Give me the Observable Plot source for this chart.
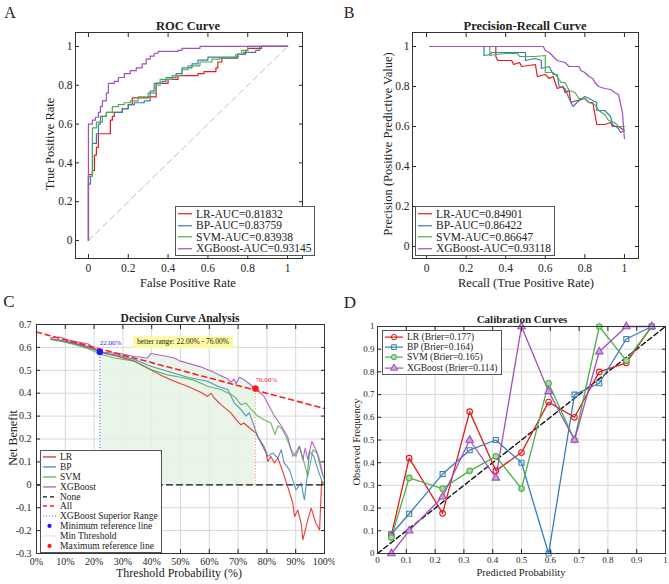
<!DOCTYPE html>
<html><head><meta charset="utf-8">
<script src="https://cdn.jsdelivr.net/npm/d3@7"></script>
<script src="https://cdn.jsdelivr.net/npm/@observablehq/plot@0.6"></script>
<style>
body{margin:0;background:#fff;}
#root{position:relative;width:669px;height:584px;overflow:hidden;font-family:"Liberation Serif","Times New Roman",serif;color:#222;background:#fff;}
.pl{position:absolute;}
.lbl{position:absolute;transform:translate(-50%,-50%);white-space:nowrap;line-height:1;}
.rot{transform:translate(-50%,-50%) rotate(-90deg);}
.ttl{font-weight:bold;}
.legend{position:absolute;background:#fff;border:1px solid #555;box-sizing:border-box;padding:1px 3px 1px 1px;}
.legend .row{display:flex;align-items:center;white-space:nowrap;}
.legend svg{flex:none;}
</style></head><body><div id="root"></div>
<script>
// ---------- data ----------
const models = ["LR", "BP", "SVM", "XGBoost"];
const colors = ["#e41a1c", "#377eb8", "#4daf4a", "#a24fbf"];
const rocAUC = ["0.81832", "0.83759", "0.83938", "0.93145"];
const prAUC = ["0.84901", "0.86422", "0.86647", "0.93118"];
const brier = ["0.177", "0.164", "0.165", "0.114"];
const panelLetters = ["A", "B", "C", "D"];

const rocLR = [[0,0],[0,0.34],[0.02,0.36],[0.03,0.44],[0.04,0.48],[0.05,0.55],[0.11,0.62],[0.12,0.64],[0.13,0.66],[0.17,0.68],[0.2,0.7],[0.22,0.735],[0.3,0.74],[0.34,0.81],[0.4,0.83],[0.45,0.85],[0.55,0.86],[0.58,0.87],[0.64,0.89],[0.65,0.92],[0.67,0.94],[0.75,0.96],[0.79,0.98],[0.8,0.99],[0.87,1],[1,1]];
const rocBP = [[0,0],[0,0.29],[0.01,0.33],[0.02,0.5],[0.04,0.55],[0.05,0.6],[0.06,0.64],[0.09,0.66],[0.14,0.66],[0.17,0.68],[0.2,0.7],[0.23,0.71],[0.28,0.72],[0.31,0.77],[0.33,0.81],[0.37,0.82],[0.39,0.84],[0.44,0.86],[0.47,0.89],[0.52,0.91],[0.55,0.93],[0.6,0.945],[0.75,0.96],[0.78,0.97],[0.84,0.98],[0.86,1],[1,1]];
const rocSVM = [[0,0],[0,0.33],[0.02,0.58],[0.04,0.61],[0.07,0.64],[0.09,0.66],[0.12,0.69],[0.15,0.7],[0.18,0.71],[0.21,0.72],[0.25,0.74],[0.3,0.76],[0.34,0.8],[0.36,0.83],[0.42,0.85],[0.47,0.88],[0.5,0.9],[0.56,0.92],[0.62,0.935],[0.66,0.94],[0.74,0.96],[0.77,0.98],[0.8,1],[1,1]];
const rocXGB = [[0,0],[0,0.6],[0.02,0.62],[0.035,0.635],[0.05,0.66],[0.06,0.69],[0.07,0.72],[0.09,0.76],[0.1,0.81],[0.13,0.82],[0.15,0.84],[0.18,0.86],[0.21,0.875],[0.24,0.89],[0.27,0.91],[0.29,0.935],[0.31,0.95],[0.33,0.965],[0.35,0.975],[0.45,0.98],[0.47,0.99],[0.56,1],[1,1]];
const rocDiag = [[0,0],[1,1]];

const prLR = [[0.015,1],[0.35,1],[0.35,0.95],[0.36,0.93],[0.43,0.93],[0.44,0.91],[0.47,0.92],[0.48,0.9],[0.55,0.91],[0.56,0.85],[0.6,0.86],[0.62,0.84],[0.64,0.85],[0.66,0.79],[0.69,0.8],[0.7,0.77],[0.72,0.78],[0.73,0.72],[0.76,0.73],[0.8,0.74],[0.82,0.72],[0.84,0.72],[0.86,0.61],[0.9,0.61],[0.93,0.62],[0.94,0.6],[0.97,0.6],[1,0.58]];
const prBP = [[0.015,1],[0.29,1],[0.29,0.955],[0.32,0.96],[0.33,0.97],[0.5,0.97],[0.5,0.93],[0.55,0.94],[0.58,0.93],[0.58,0.89],[0.62,0.9],[0.64,0.86],[0.66,0.86],[0.67,0.8],[0.7,0.79],[0.72,0.74],[0.74,0.7],[0.76,0.72],[0.8,0.75],[0.86,0.72],[0.86,0.68],[0.9,0.68],[0.93,0.65],[0.94,0.61],[0.97,0.59],[0.98,0.57],[1,0.58]];
const prSVM = [[0.015,1],[0.32,1],[0.32,0.955],[0.35,0.96],[0.4,0.965],[0.46,0.965],[0.47,0.95],[0.55,0.95],[0.6,0.955],[0.6,0.87],[0.64,0.87],[0.66,0.85],[0.68,0.82],[0.7,0.82],[0.72,0.78],[0.75,0.77],[0.77,0.74],[0.8,0.74],[0.82,0.72],[0.85,0.71],[0.87,0.68],[0.9,0.66],[0.92,0.63],[0.95,0.62],[0.97,0.6],[1,0.6]];
const prXGB = [[0.015,1],[0.59,1],[0.6,0.98],[0.62,0.97],[0.64,0.95],[0.66,0.93],[0.7,0.92],[0.72,0.9],[0.77,0.9],[0.78,0.88],[0.8,0.87],[0.82,0.85],[0.84,0.84],[0.85,0.82],[0.87,0.8],[0.9,0.79],[0.93,0.785],[0.95,0.77],[0.97,0.76],[0.99,0.67],[0.995,0.6],[1,0.54]];

const dcaLR = [[5,0.638],[8,0.632],[12,0.622],[16,0.61],[20,0.594],[24,0.573],[28,0.562],[34,0.54],[38.5,0.51],[43,0.48],[47.8,0.452],[52.4,0.43],[57,0.404],[59.4,0.386],[60.6,0.4],[61.7,0.379],[64,0.35],[67.5,0.314],[69.8,0.277],[71,0.262],[72,0.27],[74,0.248],[76.2,0.226],[78,0.182],[79.7,0.139],[80.3,0.102],[81.4,0.124],[82.6,0.095],[83.8,0.117],[85.5,0.058],[87.2,-0.007],[89,-0.08],[89.6,-0.139],[90.7,-0.11],[91.9,-0.168],[92.5,-0.24],[94.2,-0.153],[95.4,-0.102],[97,-0.168],[98.3,-0.197],[99,0.015],[100,0.007]];
const dcaBP = [[5,0.637],[10,0.625],[15,0.61],[20,0.59],[25,0.57],[29,0.565],[34,0.547],[39.7,0.518],[45.5,0.496],[52.4,0.47],[59.4,0.452],[62.9,0.43],[66.4,0.416],[68.7,0.357],[71,0.328],[72.7,0.3],[73.9,0.314],[75.6,0.255],[76.8,0.21],[79,0.168],[80.3,0.124],[82,0.139],[83.8,0.117],[85,0.153],[86,0.095],[87.8,0.066],[90.1,-0.022],[91.9,0.007],[93,-0.066],[94,0.036],[94.8,0.146],[96.3,0.124],[97.7,0.066],[99.4,0.007]];
const dcaSVM = [[5,0.634],[9,0.625],[13,0.613],[17,0.598],[20,0.583],[22.3,0.57],[27,0.554],[34,0.54],[39.7,0.503],[45.5,0.48],[50,0.47],[54.8,0.456],[59.4,0.43],[64,0.416],[67.5,0.394],[68.7,0.386],[71,0.35],[72.7,0.357],[74.5,0.33],[76.8,0.3],[79,0.284],[81.4,0.27],[82.8,0.219],[83.8,0.258],[85,0.248],[86.7,0.21],[88.4,0.153],[90.1,0.124],[91.3,0.168],[92.5,0.117],[94.2,0.036],[96,0.153],[97.4,0.139],[98.8,0.066],[100,0.022]];
const dcaXGB = [[5,0.642],[8,0.645],[11,0.632],[15,0.622],[18,0.615],[20,0.598],[22,0.58],[29,0.573],[34,0.56],[38.5,0.554],[39.7,0.573],[45.5,0.56],[47.8,0.554],[50,0.54],[57,0.515],[61.7,0.49],[66.4,0.462],[67.5,0.448],[68.7,0.462],[69.3,0.44],[70.4,0.47],[72,0.46],[74,0.44],[76,0.42],[79,0.386],[82.6,0.3],[85,0.258],[87.2,0.21],[89,0.124],[90,0.138],[91.3,0.168],[92.5,0.11],[93.3,0.16],[94.2,0.11],[95.6,0.19],[97,0.153],[98.3,0.11],[99.4,0.044]];
const dcaAll = [[0,0.667],[100,0.333]];
const dcaNone = [[0,0],[100,0]];
const refPoints = [{t: 22, nb: 0.58, color: "#1a1aff", label: "22.00%"}, {t: 76, nb: 0.42, color: "#ff1a1a", label: "76.00%"}];

const calBins = [0.048, 0.11, 0.226, 0.32, 0.411, 0.5, 0.594, 0.684, 0.77, 0.864, 0.952];
const calLR  = [0.08, 0.42, 0.177, 0.625, 0.365, 0.445, 0.667, 0.6, 0.8, 0.84, 1.0];
const calBP  = [0.085, 0.175, 0.35, 0.455, 0.5, 0.4, 0.0, 0.7, 0.75, 0.945, 1.0];
const calSVM = [0.07, 0.333, 0.286, 0.364, 0.428, 0.286, 0.75, 0.5, 1.0, 0.85, 1.0];
const calXGB = [0.0, 0.1, 0.25, 0.5, 0.333, 1.0, 0.714, 0.5, 0.889, 1.0, 1.0];
const calDiag = [[0,0],[1,1]];

const ticks01 = [0, 0.2, 0.4, 0.6, 0.8, 1];
const ticksDcaX = [0,10,20,30,40,50,60,70,80,90,100];
const ticksDcaY = [-0.3,-0.2,-0.1,0,0.1,0.2,0.3,0.4,0.5,0.6,0.7];
const ticksCal = [0,0.1,0.2,0.3,0.4,0.5,0.6,0.7,0.8,0.9,1];

// ---------- helpers ----------
const root = document.getElementById("root");
const fmtNum = d => String(+(+d).toFixed(2));
const X = d => d[0], Y = d => d[1];

function boxPlot(o) {
  const fs = o.fontSize;
  const axes = [
    Plot.axisX(o.xTicks, {anchor: "bottom", tickSize: -4, tickPadding: o.padX, tickFormat: o.fmtX || fmtNum, label: null, fontSize: fs}),
    Plot.axisX(o.xTicks, {anchor: "top", tickSize: -4, tickFormat: () => "", label: null}),
    Plot.axisY(o.yTicks, {anchor: "left", tickSize: -4, tickPadding: o.padY, tickFormat: o.fmtY || fmtNum, label: null, fontSize: fs}),
    Plot.axisY(o.yTicks, {anchor: "right", tickSize: -4, tickFormat: () => "", label: null}),
    Plot.frame({stroke: "#333", strokeWidth: 1})
  ];
  const grid = o.grid ? [
    Plot.gridX(o.xTicks, {stroke: "#d8d8d8", strokeOpacity: 1}),
    Plot.gridY(o.yTicks, {stroke: "#d8d8d8", strokeOpacity: 1})
  ] : [];
  const svg = Plot.plot({
    width: o.width, height: o.height,
    marginLeft: o.m[0], marginRight: o.m[1], marginTop: o.m[2], marginBottom: o.m[3],
    x: {domain: o.xDomain}, y: {domain: o.yDomain},
    style: {fontFamily: '"Liberation Serif", "Times New Roman", serif', fontSize: fs + "px", color: "#262626", background: "transparent"},
    marks: [...grid, ...o.marks, ...axes]
  });
  svg.classList.add("pl");
  svg.style.left = o.left + "px";
  svg.style.top = o.top + "px";
  root.appendChild(svg);
}

function label(text, cx, cy, size, extra = "") {
  const d = document.createElement("div");
  d.className = "lbl " + extra;
  d.style.left = cx + "px"; d.style.top = cy + "px"; d.style.fontSize = size + "px";
  d.textContent = text;
  root.appendChild(d);
  return d;
}

function legend(left, top, rows, fontSize, rowH, swW) {
  const box = document.createElement("div");
  box.className = "legend";
  box.style.left = left + "px"; box.style.top = top + "px"; box.style.fontSize = fontSize + "px";
  for (const r of rows) {
    const row = document.createElement("div");
    row.className = "row"; row.style.height = rowH + "px";
    const ns = "http://www.w3.org/2000/svg";
    const s = document.createElementNS(ns, "svg");
    s.setAttribute("width", swW); s.setAttribute("height", rowH);
    if (r.stroke) {
      const l = document.createElementNS(ns, "line");
      l.setAttribute("x1", 1); l.setAttribute("x2", swW - 2);
      l.setAttribute("y1", rowH / 2); l.setAttribute("y2", rowH / 2);
      l.setAttribute("stroke", r.stroke); l.setAttribute("stroke-width", r.width || 1.2);
      if (r.dash) l.setAttribute("stroke-dasharray", r.dash);
      s.appendChild(l);
    }
    if (r.marker) {
      const p = document.createElementNS(ns, "path");
      p.setAttribute("d", d3.symbol(r.marker.type, r.marker.size)());
      p.setAttribute("transform", `translate(${(swW - 1) / 2},${rowH / 2})`);
      p.setAttribute("fill", r.marker.fill); p.setAttribute("stroke", r.marker.stroke || "none");
      s.appendChild(p);
    }
    row.appendChild(s);
    const t = document.createElement("span");
    t.textContent = r.text; t.style.marginLeft = "2px";
    row.appendChild(t);
    box.appendChild(row);
  }
  root.appendChild(box);
}

// ---------- Panel A: ROC ----------
const rocSeries = [rocLR, rocBP, rocSVM, rocXGB];
boxPlot({
  left: 0, top: 0, width: 335, height: 290, m: [75, 33, 32, 32],
  xDomain: [-0.065, 1.075], yDomain: [-0.093, 1.072],
  xTicks: ticks01, yTicks: ticks01, fontSize: 11.5, padX: 9, padY: 7,
  marks: [
    Plot.line(rocDiag, {x: X, y: Y, stroke: "#bdbdbd", strokeWidth: 1, strokeDasharray: "6,4"}),
    ...rocSeries.map((s, i) => Plot.line(s, {x: X, y: Y, stroke: colors[i], strokeWidth: 1.2, curve: "step-after"}))
  ]
});
label("ROC Curve", 188, 26, 12.5, "ttl");
label("False Positive Rate", 188, 283, 12.5);
label("True Positive Rate", 50, 144, 12.5, "rot");
legend(175, 206, models.map((m, i) => ({text: `${m}-AUC=${rocAUC[i]}`, stroke: colors[i]})), 11.5, 11.5, 17);

// ---------- Panel B: PR ----------
const prSeries = [prLR, prBP, prSVM, prXGB];
boxPlot({
  left: 335, top: 0, width: 334, height: 290, m: [77, 31, 32, 32],
  xDomain: [-0.071, 1.071], yDomain: [-0.06, 1.07],
  xTicks: ticks01, yTicks: ticks01, fontSize: 11.5, padX: 9, padY: 7,
  marks: prSeries.map((s, i) => Plot.line(s, {x: X, y: Y, stroke: colors[i], strokeWidth: 1.2}))
});
label("Precision-Recall Curve", 525, 26, 12.5, "ttl");
label("Recall (True Positive Rate)", 526, 283, 12.5);
label("Precision (Positive Predictive Value)", 388, 144, 12.5, "rot");
legend(415, 206, models.map((m, i) => ({text: `${m}-AUC=${prAUC[i]}`, stroke: colors[i]})), 11.5, 11.5, 17);

// ---------- Panel C: DCA ----------
const dcaSeries = [dcaLR, dcaBP, dcaSVM, dcaXGB];
const [minRef, maxRef] = refPoints;
boxPlot({
  left: 0, top: 290, width: 335, height: 294, m: [36, 11, 34, 31],
  xDomain: [0, 100], yDomain: [-0.3, 0.7],
  xTicks: ticksDcaX, yTicks: ticksDcaY, fontSize: 10, padX: 8.5, padY: 9,
  fmtX: d => d + "%", grid: true,
  marks: [
    Plot.areaY(dcaXGB.filter(d => d[0] >= minRef.t && d[0] <= maxRef.t), {x: X, y1: 0, y2: Y, fill: "#e6f3e6", fillOpacity: 0.85}),
    Plot.line(dcaNone, {x: X, y: Y, stroke: "#111", strokeWidth: 1.3, strokeDasharray: "6,4"}),
    ...dcaSeries.map((s, i) => Plot.line(s, {x: X, y: Y, stroke: colors[i], strokeWidth: 1.1, strokeOpacity: 0.85})),
    Plot.line(dcaAll, {x: X, y: Y, stroke: "#ff2020", strokeWidth: 1.6, strokeDasharray: "5,4"}),
    Plot.ruleX([minRef], {x: "t", y1: -0.3, y2: "nb", stroke: "#5b5bff", strokeWidth: 1, strokeDasharray: "1,2"}),
    Plot.ruleX([maxRef], {x: "t", y1: 0, y2: "nb", stroke: "#ff7070", strokeWidth: 1, strokeDasharray: "1,2"}),
    Plot.dot(refPoints, {x: "t", y: "nb", fill: "color", r: 3.3}),
    Plot.text(refPoints, {x: "t", y: "nb", text: "label", fill: "color", dx: 0, dy: -9, textAnchor: "start", fontSize: 7})
  ]
});
label("Decision Curve Analysis", 180, 319, 11.5, "ttl");
label("Threshold Probability (%)", 179, 573, 12);
label("Net Benefit", 13, 438, 12, "rot");
{
  const a = label(`better range: ${minRef.t.toFixed(2)}% - ${maxRef.t.toFixed(2)}%`, 183, 342, 7.5);
  a.style.background = "#fdfaa4"; a.style.padding = "2px 4px";
}
legend(40, 450, [
  ...models.map((m, i) => ({text: m, stroke: colors[i]})),
  {text: "None", stroke: "#111", dash: "4,3"},
  {text: "All", stroke: "#ff2020", dash: "4,3", width: 1.5},
  {text: "XGBoost Superior Range", stroke: "#5b5bff", dash: "1,2", width: 1},
  {text: "Minimum reference line", marker: {type: d3.symbolCircle, size: 14, fill: "#1a1aff"}},
  {text: "Min Threshold", stroke: "#ff8080", dash: "1,2", width: 1},
  {text: "Maximum reference line", marker: {type: d3.symbolCircle, size: 14, fill: "#ff1a1a"}}
], 9.5, 9.9, 16);

// ---------- Panel D: Calibration ----------
const calSeries = [calLR, calBP, calSVM, calXGB];
const calSymbols = ["circle", "square", "circle", "triangle"];
const calFill = ["none", "none", "#a6dca0", "#c9a2dc"];
const calD3Sym = [d3.symbolCircle, d3.symbolSquare, d3.symbolCircle, d3.symbolTriangle];
boxPlot({
  left: 335, top: 290, width: 334, height: 294, m: [42, 4, 36, 31],
  xDomain: [0, 1], yDomain: [0, 1],
  xTicks: ticksCal, yTicks: ticksCal, fontSize: 9, padX: 7, padY: 7, grid: true,
  marks: [
    Plot.line(calDiag, {x: X, y: Y, stroke: "#111", strokeWidth: 1.4, strokeDasharray: "5,3"}),
    ...calSeries.map((s, i) => Plot.line(calBins, {x: d => d, y: (d, j) => s[j], stroke: colors[i], strokeWidth: 1.3})),
    ...calSeries.map((s, i) => Plot.dot(calBins, {x: d => d, y: (d, j) => s[j], stroke: colors[i], fill: calFill[i], symbol: calSymbols[i], r: 2.8, strokeWidth: 1.1}))
  ]
});
label("Calibration Curves", 522, 319, 11, "ttl");
label("Predicted Probability", 521, 573, 10.5);
label("Observed Frequency", 357, 442, 10.5, "rot");
legend(382, 330, models.map((m, i) => ({text: `${m} (Brier=${brier[i]})`, stroke: colors[i], marker: {type: calD3Sym[i], size: 22, fill: calFill[i], stroke: colors[i]}})), 9.5, 10.2, 21);

// ---------- panel letters ----------
[[10, 13, 16], [349, 13, 16], [9, 301, 17], [350, 302, 17]].forEach(([x, y, s], i) => label(panelLetters[i], x, y, s));
</script></body></html>
